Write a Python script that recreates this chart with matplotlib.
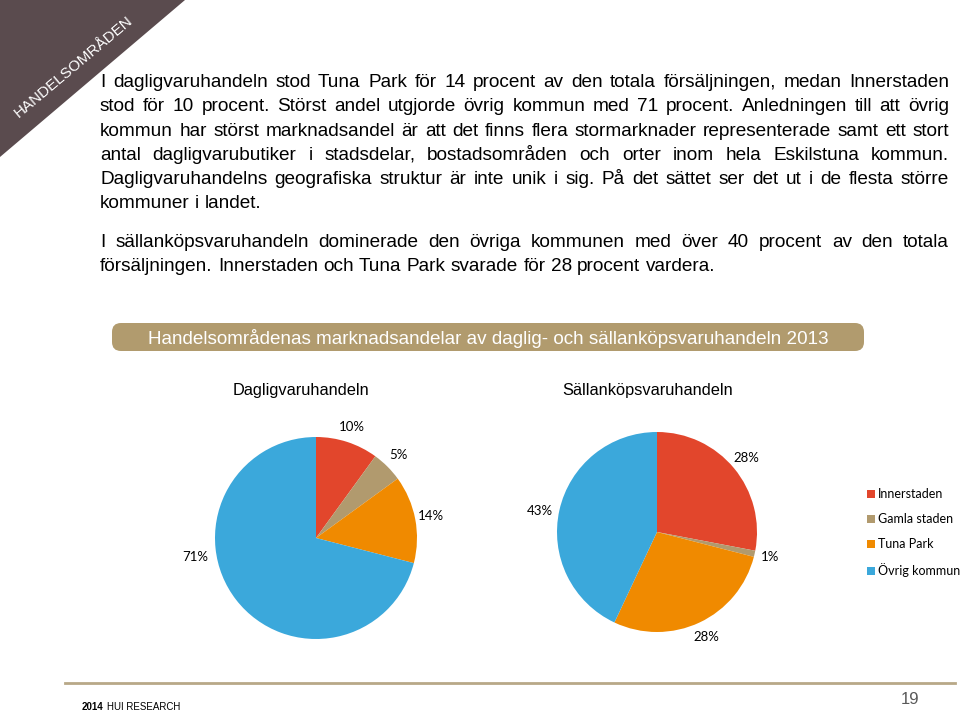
import matplotlib
matplotlib.use("Agg")
import matplotlib.pyplot as plt
from matplotlib.patches import Polygon, FancyBboxPatch

# data
categories = ["Innerstaden", "Gamla staden", "Tuna Park", "Övrig kommun"]
daglig = [10, 5, 14, 71]
sallan = [28, 1, 28, 43]
colors = ["#E2462C", "#B19A6E", "#F08A00", "#3BA8DB"]

title = "Handelsområdenas marknadsandelar av daglig- och sällanköpsvaruhandeln 2013"
pie_titles = ["Dagligvaruhandeln", "Sällanköpsvaruhandeln"]

# (text, justified)
body = [
    ("I dagligvaruhandeln stod Tuna Park för 14 procent av den totala försäljningen, medan Innerstaden", True),
    ("stod för 10 procent. Störst andel utgjorde övrig kommun med 71 procent. Anledningen till att övrig", True),
    ("kommun har störst marknadsandel är att det finns flera stormarknader representerade samt ett stort", True),
    ("antal dagligvarubutiker i stadsdelar, bostadsområden och orter inom hela Eskilstuna kommun.", True),
    ("Dagligvaruhandelns geografiska struktur är inte unik i sig. På det sättet ser det ut i de flesta större", True),
    ("kommuner i landet.", False),
    ("I sällanköpsvaruhandeln dominerade den övriga kommunen med över 40 procent av den totala", True),
    ("försäljningen. Innerstaden och Tuna Park svarade för 28 procent vardera.", False),
]
baselines = [87, 111, 136, 160, 184, 208, 247, 271]

W, H = 960, 715
fig = plt.figure(figsize=(W / 100, H / 100), dpi=100)
bg = fig.add_axes([0, 0, 1, 1])
bg.set_xlim(0, W); bg.set_ylim(H, 0); bg.axis("off")

BODY_FONT = "Liberation Sans"
BODY_SIZE = 13.7
renderer = fig.canvas.get_renderer()

def text_width(s, **kw):
    t = bg.text(0, 0, s, family=BODY_FONT, **kw)
    wd = t.get_window_extent(renderer).width
    t.remove()
    return wd

left, right = 100, 949
space = text_width("a a", fontsize=BODY_SIZE) - text_width("aa", fontsize=BODY_SIZE)
for (line, just), yb in zip(body, baselines):
    words = line.split(" ")
    widths = [text_width(w, fontsize=BODY_SIZE) for w in words]
    if just and len(words) > 1:
        gap = (right - left - sum(widths)) / (len(words) - 1)
    else:
        gap = space
    x = left
    for w, wd in zip(words, widths):
        bg.text(x, yb, w, fontsize=BODY_SIZE, family=BODY_FONT, va="baseline", ha="left")
        x += wd + gap

# corner banner
bg.add_patch(Polygon([(0, 0), (185, 0), (0, 157)], closed=True, color="#5A4B4E", lw=0))
bg.text(74, 67, "HANDELSOMRÅDEN", rotation=40, color="white", fontsize=11,
        family=BODY_FONT, ha="center", va="center", rotation_mode="anchor")

# title box
bg.add_patch(FancyBboxPatch((112, 323), 752, 28, boxstyle="round,pad=0,rounding_size=9",
                            fc="#B19B6E", ec="none"))
bg.text(488, 338, title, color="white", fontsize=13.6, family=BODY_FONT, ha="center", va="center")

# pie titles
bg.text(301, 390, pie_titles[0], fontsize=11.8, family=BODY_FONT, ha="center", va="center")
bg.text(648, 390, pie_titles[1], fontsize=11.8, family=BODY_FONT, ha="center", va="center")

# pies
LABEL_FONT = "Lato"
def draw_pie(cx, cy, r, vals, ovrig_pos):
    ax = fig.add_axes([(cx - r) / W, 1 - (cy + r) / H, 2 * r / W, 2 * r / H])
    wedges, texts = ax.pie(vals, colors=colors, startangle=90, counterclock=False,
                           labels=[f"{v}%" for v in vals], labeldistance=1.16,
                           wedgeprops=dict(linewidth=0),
                           textprops=dict(fontsize=9.5, family=LABEL_FONT))
    for t in texts:
        t.set_ha("center"); t.set_va("center")
    texts[3].set_position(ovrig_pos)
    ax.set_xlim(-1, 1); ax.set_ylim(-1, 1)
    return wedges

wedges = draw_pie(316, 538, 101, daglig, (-1.2, -0.19))
draw_pie(657, 532, 100, sallan, (-1.17, 0.21))

fig.legend(wedges, categories, loc="upper left", bbox_to_anchor=(867 / W, 1 - 488 / H),
           frameon=False, prop=dict(family=LABEL_FONT, size=9),
           handlelength=0.6, handleheight=0.6, handletextpad=0.3, labelspacing=1.05,
           borderaxespad=0, borderpad=0)

# footer
bg.plot([65, 955], [683, 683], color="#B8A887", lw=2)
bg.text(82, 710, "2014", fontsize=7, weight="bold", family=BODY_FONT, va="baseline")
x_hui = 82 + text_width("2014", fontsize=7, weight="bold") + 3
bg.text(x_hui, 710, "HUI RESEARCH", fontsize=7, family=BODY_FONT, va="baseline")
bg.text(910, 700, "19", fontsize=12, color="#595959", family=BODY_FONT, ha="center", va="center")

fig.savefig("out.png", dpi=100)
